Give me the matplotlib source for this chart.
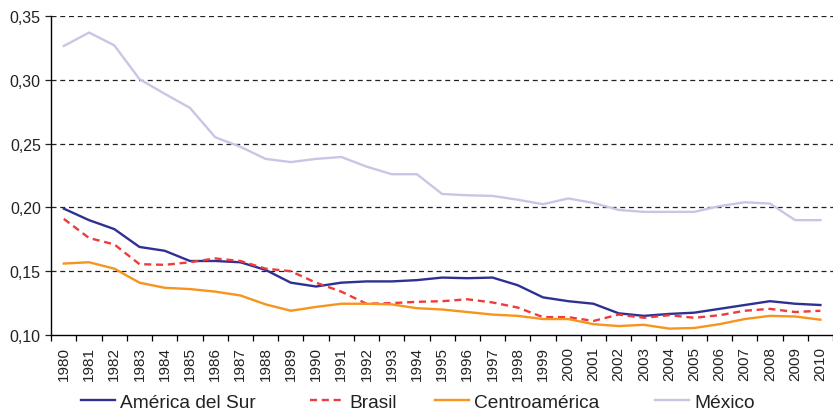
import matplotlib
matplotlib.use('Agg')
import matplotlib.pyplot as plt
from matplotlib.ticker import FixedLocator, FuncFormatter

plt.rcParams['font.family'] = ['Liberation Sans', 'DejaVu Sans']

years = list(range(1980, 2011))

america_sur = [0.199, 0.190, 0.183, 0.169, 0.166, 0.158, 0.158, 0.157, 0.151, 0.141,
               0.138, 0.141, 0.142, 0.142, 0.143, 0.145, 0.1445, 0.145, 0.139, 0.1295,
               0.1265, 0.1245, 0.117, 0.115, 0.1165, 0.1175, 0.1205, 0.1235, 0.1265, 0.1245,
               0.1235]
brasil = [0.191, 0.176, 0.171, 0.1555, 0.155, 0.157, 0.160, 0.158, 0.152, 0.150,
          0.141, 0.134, 0.1245, 0.125, 0.126, 0.1265, 0.128, 0.1255, 0.1215, 0.114,
          0.114, 0.111, 0.116, 0.1135, 0.1155, 0.1135, 0.1155, 0.119, 0.1205, 0.118,
          0.119]
centroamerica = [0.156, 0.157, 0.152, 0.141, 0.137, 0.136, 0.134, 0.131, 0.124, 0.119,
                 0.122, 0.1245, 0.1245, 0.124, 0.121, 0.120, 0.118, 0.116, 0.115, 0.1125,
                 0.1125, 0.1085, 0.107, 0.108, 0.105, 0.1055, 0.1085, 0.1125, 0.115, 0.1145,
                 0.112]
mexico = [0.3265, 0.337, 0.327, 0.3005, 0.289, 0.278, 0.255, 0.2475, 0.238, 0.2355,
          0.238, 0.2395, 0.232, 0.226, 0.226, 0.2105, 0.2095, 0.209, 0.206, 0.2025,
          0.207, 0.2035, 0.198, 0.1965, 0.1965, 0.1965, 0.201, 0.204, 0.203, 0.190,
          0.190]

fig = plt.figure(figsize=(8.33, 4.14), dpi=100)
ax = fig.add_axes([0.0615, 0.1884, 0.9385, 0.7706])

l1, = ax.plot(years, america_sur, color='#2e3192', lw=1.7, label='América del Sur')
l2, = ax.plot(years, brasil, color='#ee3b3b', lw=1.7, ls=(0, (3, 2)), label='Brasil')
l3, = ax.plot(years, centroamerica, color='#f7941d', lw=1.7, label='Centroamérica')
l4, = ax.plot(years, mexico, color='#c8c6e6', lw=1.7, label='México')

ax.set_xlim(1979.5, 2010.5)
ax.set_ylim(0.10, 0.35)

# horizontal dashed grid
for v in [0.15, 0.20, 0.25, 0.30, 0.35]:
    ax.axhline(v, color='#222222', lw=0.9, ls=(0, (4, 3)), zorder=0)

ax.set_yticks([0.10, 0.15, 0.20, 0.25, 0.30, 0.35])
ax.yaxis.set_major_formatter(FuncFormatter(lambda v, p: f'{v:.2f}'.replace('.', ',')))
ax.set_xticks(years)
ax.set_xticklabels([str(y) for y in years], rotation=90, fontsize=11)
ax.xaxis.set_minor_locator(FixedLocator([y + 0.5 for y in range(1979, 2011)]))
ax.tick_params(axis='x', which='major', length=0, pad=8, colors='#222222')
ax.tick_params(axis='x', which='minor', length=4, width=0.9)
ax.tick_params(axis='y', length=4, width=0.9, labelsize=11.5, colors='#222222')

for s in ['top', 'right']:
    ax.spines[s].set_visible(False)
ax.spines['left'].set_linewidth(1.0)
ax.spines['bottom'].set_linewidth(1.0)

# legend entries placed one by one, as in the original layout
for line, xpos in [(l1, 81), (l2, 310), (l3, 435), (l4, 655)]:
    leg = fig.legend(handles=[line], loc='center left',
                     bbox_to_anchor=(xpos / 833, 1 - 403 / 414), frameon=False,
                     fontsize=13.8, handlelength=1.77, handletextpad=0.27,
                     borderpad=0, borderaxespad=0)
    for t in leg.get_texts():
        t.set_color('#222222')

plt.savefig('out.png', dpi=100)
